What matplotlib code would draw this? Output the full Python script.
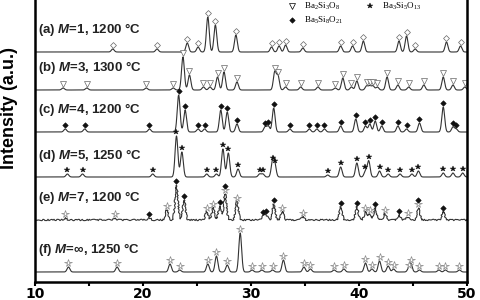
import numpy as np
import matplotlib.pyplot as plt

plt.rcParams['mathtext.fontset'] = 'custom'
plt.rcParams['mathtext.rm'] = 'Liberation Serif'
plt.rcParams['mathtext.bfit'] = 'Liberation Sans:italic:bold'

# peak positions (2theta), heights (a.u.) and phase markers for each sample
labels = [r'(a) $\mathbfit{M}$=1, 1200 °C', r'(b) $\mathbfit{M}$=3, 1300 °C',
          r'(c) $\mathbfit{M}$=4, 1200 °C', r'(d) $\mathbfit{M}$=5, 1250 °C',
          r'(e) $\mathbfit{M}$=7, 1200 °C', r'(f) $\mathbfit{M}$=∞, 1250 °C']

pos_a = [17.2, 21.3, 24.1, 25.1, 26.0, 26.7, 28.6, 31.9, 32.6, 33.2, 34.8, 38.3, 39.4,
         40.4, 43.7, 44.4, 45.2, 48.1, 49.4]
h_a = [3, 3, 9, 5, 35, 27, 17, 5, 6, 7, 4, 6, 6, 11, 11, 16, 3, 10, 6]
m_a = ['d'] * len(pos_a)

pos_b = [12.6, 14.8, 20.3, 22.8, 23.7, 24.3, 25.6, 26.2, 26.9, 27.5, 28.7, 32.2, 32.5,
         33.2, 34.6, 36.2, 37.8, 38.5, 39.3, 39.8, 40.7, 41.0, 41.3, 41.7, 42.6, 43.6,
         44.6, 46.0, 47.8, 48.7, 49.8]
h_b = [2, 2, 2, 2, 33, 15, 3, 3, 13, 18, 8, 18, 14, 3, 3, 3, 2, 12, 3, 9, 4, 4, 4, 3,
       13, 5, 3, 5, 13, 5, 3]
m_b = ['t'] * len(pos_b)

pos_c = [12.8, 14.6, 20.6, 23.3, 23.9, 25.1, 25.7, 27.2, 27.8, 28.7, 31.3, 31.6, 32.1,
         33.6, 35.4, 36.1, 36.8, 38.3, 39.7, 40.6, 41.0, 41.5, 42.1, 43.6, 44.4, 45.6,
         47.8, 48.7, 49.0]
h_c = [3, 3, 3, 37, 22, 3, 3, 22, 20, 8, 5, 6, 24, 3, 3, 3, 3, 6, 13, 6, 8, 11, 6, 6,
       3, 9, 25, 5, 3]
m_c = ['f'] * len(pos_c)

pos_d = [13.0, 14.4, 20.9, 23.1, 23.6, 25.9, 26.8, 27.4, 27.9, 28.8, 30.8, 31.1, 32.0,
         32.2, 37.1, 38.3, 39.8, 40.6, 40.9, 41.9, 42.7, 43.8, 44.9, 45.5, 47.8, 48.7, 49.6]
h_d = [3, 3, 3, 41, 25, 3, 3, 28, 24, 8, 3, 3, 15, 12, 2, 10, 14, 6, 16, 6, 3, 3, 3, 6,
       4, 4, 4]
m_d = ['s'] * len(pos_d)

pos_e = [12.8, 17.4, 20.6, 22.2, 23.1, 23.8, 25.9, 26.5, 27.1, 27.6, 28.7, 31.1, 31.4,
         32.1, 32.9, 34.8, 38.3, 39.8, 40.6, 41.0, 41.5, 42.4, 43.7, 44.5, 45.5, 47.8]
h_e = [2, 2, 2, 10, 35, 20, 8, 12, 14, 26, 18, 4, 5, 16, 8, 3, 13, 13, 8, 6, 12, 6, 5,
       3, 12, 8]
m_e = ['h', 'h', 'f', 'h', 'f', 'f', 'h', 'h', 'f', 'hf', 'h', 'f', 'f', 'f', 'h', 'h',
       'f', 'f', 'h', 'h', 'f', 'h', 'f', 'h', 'hf', 'f']

pos_f = [13.1, 17.6, 22.5, 23.4, 26.0, 26.8, 27.8, 29.0, 30.1, 31.0, 32.0, 33.0, 34.9,
         35.5, 37.7, 38.6, 40.6, 41.2, 41.9, 42.7, 43.2, 44.6, 44.8, 45.6, 47.4, 48.0, 49.3]
h_f = [5, 5, 8, 2, 8, 16, 7, 39, 2, 2, 2, 12, 5, 3, 2, 3, 9, 3, 11, 6, 3, 3, 8, 2, 2, 2, 2]
m_f = ['h'] * len(pos_f)

peaks = [(pos_a, h_a, m_a), (pos_b, h_b, m_b), (pos_c, h_c, m_c),
         (pos_d, h_d, m_d), (pos_e, h_e, m_e), (pos_f, h_f, m_f)]
offsets = [230, 192, 150, 105, 62, 10]

marker_style = {
    'd': dict(marker='D', ms=3.0, mfc='white', mec='#666', mew=0.5),
    't': dict(marker='v', ms=4.0, mfc='white', mec='#666', mew=0.5),
    'f': dict(marker='D', ms=2.8, mfc='#111', mec='#111', mew=0.4),
    's': dict(marker='*', ms=4.0, mfc='#111', mec='#111', mew=0.3),
    'h': dict(marker='*', ms=5.5, mfc='white', mec='#888', mew=0.5),
}

fig = plt.figure(figsize=(4.8, 3), dpi=100)
ax = fig.add_axes([35 / 480, 18 / 300, 432 / 480, 282 / 300])

x = np.linspace(10, 50, 4001)
for i, (pos, h, marks) in enumerate(peaks):
    y = np.zeros_like(x)
    for p, hh in zip(pos, h):
        y += hh * np.exp(-0.5 * ((x - p) / 0.13) ** 2)
    line, = ax.plot(x, y + offsets[i], color='#333', lw=0.8)
    if i == 4:
        line.set_sketch_params(scale=0.7, length=2, randomness=15)
    for p, hh, mk in zip(pos, h, marks):
        for k, c in enumerate(mk):
            ax.plot(p, offsets[i] + hh + 4 + 4.5 * k, ls='none', **marker_style[c])
    ax.text(10.25, offsets[i] + 22, labels[i], fontsize=9.5, fontweight='bold',
            family='Liberation Sans', color='#222', va='center', ha='left')

# legend
ax.plot(33.8, 276, ls='none', **dict(marker_style['t'], mec='black'))
ax.text(34.9, 276, r'Ba$_2$Si$_3$O$_8$', family='Liberation Serif', fontsize=6.5, va='center')
ax.plot(41.0, 276, ls='none', **marker_style['s'])
ax.text(42.1, 276, r'Ba$_3$Si$_5$O$_{13}$', family='Liberation Serif', fontsize=6.5, va='center')
ax.plot(33.8, 262, ls='none', **marker_style['f'])
ax.text(34.9, 262, r'Ba$_5$Si$_8$O$_{21}$', family='Liberation Serif', fontsize=6.5, va='center')

ax.set_xlim(10, 50)
ax.set_ylim(0, 282)
ax.set_xticks([10, 20, 30, 40, 50])
ax.set_xticks([15, 25, 35, 45], minor=True)
ax.set_yticks([])
ax.tick_params(axis='x', which='both', direction='out', length=3, width=1.5, pad=0.5,
               labelsize=10)
for lab in ax.get_xticklabels():
    lab.set_fontweight('bold')
ax.spines['top'].set_visible(False)
for s in ['left', 'right', 'bottom']:
    ax.spines[s].set_linewidth(1.8)

fig.text(10 / 480, 1 - 108 / 300, 'Intensity (a.u.)', rotation=90, ha='center',
         va='center', fontsize=13, fontweight='bold',
         family=['Liberation Sans Narrow', 'Liberation Sans'])

fig.savefig('out.png', dpi=100)
